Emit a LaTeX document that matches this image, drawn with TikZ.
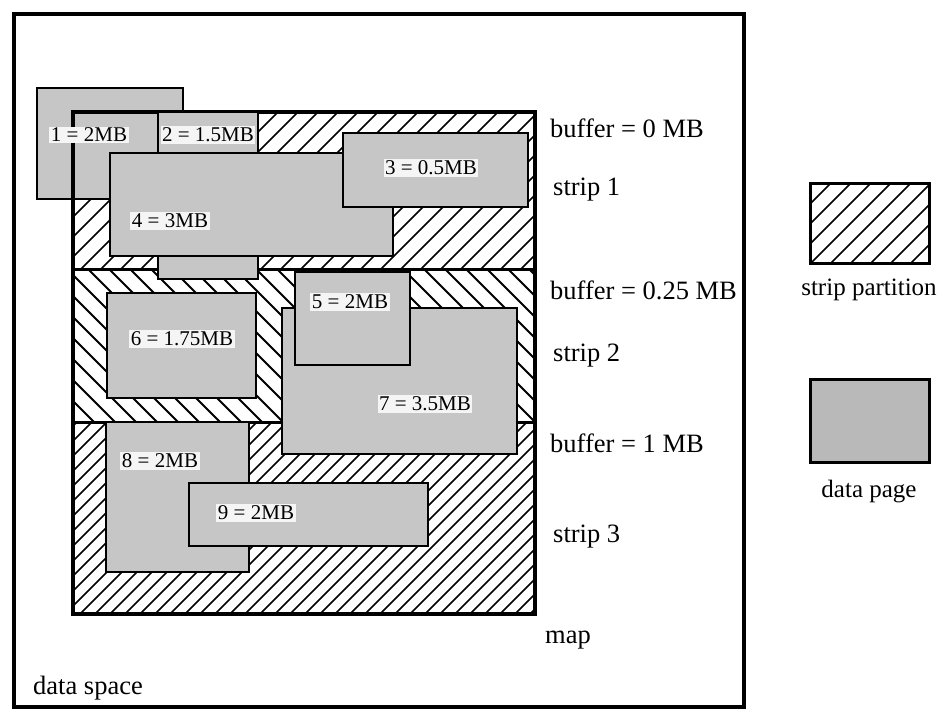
\documentclass[tikz,border=0pt]{standalone}
\usepackage{fontspec}
\setmainfont{Liberation Serif}
\begin{document}
\begin{tikzpicture}[x=1pt,y=-1pt,
  page/.style={draw=black, line width=2pt, fill=gray!45},
  lbl/.style={fill=gray!8, inner sep=1.5pt, font=\fontsize{21}{24}\selectfont},
  txt/.style={anchor=west, inner sep=0pt, font=\fontsize{26.5}{30}\selectfont},
  ctxt/.style={inner sep=0pt, font=\fontsize{25}{30}\selectfont},
  hl/.style={line width=1.7pt},
  hlb/.style={line width=2pt},
  sep/.style={line width=3pt},
  frame/.style={draw=black, line width=3.5pt},
]
\useasboundingbox (0,0) rectangle (942,711);
% data space
\draw[line width=4pt] (14,14) rectangle (744,707);
% strip 1 hatching
\begin{scope}
  \clip (73,112) rectangle (535,270);
  \foreach \x in {-100,-80,...,540} \draw[hl] (\x,270) -- ++(158,-158);
\end{scope}
% strip 2 hatching
\begin{scope}
  \clip (73,270) rectangle (535,422);
  \foreach \x in {-100,-79,...,540} \draw[hlb] (\x,270) -- ++(152,152);
\end{scope}
% strip 3 hatching
\begin{scope}
  \clip (73,422) rectangle (535,614);
  \foreach \x in {-130,-115,...,540} \draw[hl] (\x,614) -- ++(192,-192);
\end{scope}
\coordinate (s1l) at (73,270);
\coordinate (s1r) at (535,270);
\coordinate (s2l) at (73,422);
\coordinate (s2r) at (535,422);
\draw[sep] (s1l) -- (s1r);
\draw[sep] (s2l) -- (s2r);
% page 1
\draw[page] (37,88) rectangle (183,199);
% map frame
\draw[frame] (73,112) rectangle (535,614);
% strip 1 pages
\draw[page] (158,112) rectangle (258,279);
\draw[page] (110,153) rectangle (393,256);
\draw[page] (343,133) rectangle (528,207);
% strip 2 pages
\draw[page] (107,293) rectangle (256,398);
\draw[page] (282,308) rectangle (517,454);
\draw[page] (295,272) rectangle (410,365);
% strip 3 pages
\draw[page] (106,422) rectangle (249,572);
\draw[page] (189,483) rectangle (428,546);
% page labels
\node[lbl] (l1) at (89,135) {1 = 2MB};
\node[lbl] (l2) at (208,135) {2 = 1.5MB};
\node[lbl] (l3) at (431,168) {3 = 0.5MB};
\node[lbl] (l4) at (170,221) {4 = 3MB};
\node[lbl] (l5) at (350,302) {5 = 2MB};
\node[lbl] (l6) at (182,339) {6 = 1.75MB};
\node[lbl] (l7) at (425,404) {7 = 3.5MB};
\node[lbl] (l8) at (160,461) {8 = 2MB};
\node[lbl] (l9) at (256,513) {9 = 2MB};
% right-hand texts
\node[txt] (b0) at (550,128) {buffer = 0 MB};
\node[txt] (st1) at (553,190) {strip 1};
\node[txt] (b1) at (550,290) {buffer = 0.25 MB};
\node[txt] (st2) at (553,356) {strip 2};
\node[txt] (b2) at (550,443) {buffer = 1 MB};
\node[txt] (st3) at (553,537) {strip 3};
\node[txt] (mp) at (545,640) {map};
\node[txt] (ds) at (33,688) {data space};
% legend
\begin{scope}
  \clip (810,184) rectangle (929,264);
  \foreach \x in {730,750,...,940} \draw[hl] (\x,264) -- ++(80,-80);
\end{scope}
\draw[line width=3pt] (810,184) rectangle (929,264);
\node[ctxt] (lg1) at (869,290) {strip partition};
\draw[line width=3pt, fill=gray!55] (810,379) rectangle (929,462);
\node[ctxt] (lg2) at (869,492) {data page};
\end{tikzpicture}
\end{document}
